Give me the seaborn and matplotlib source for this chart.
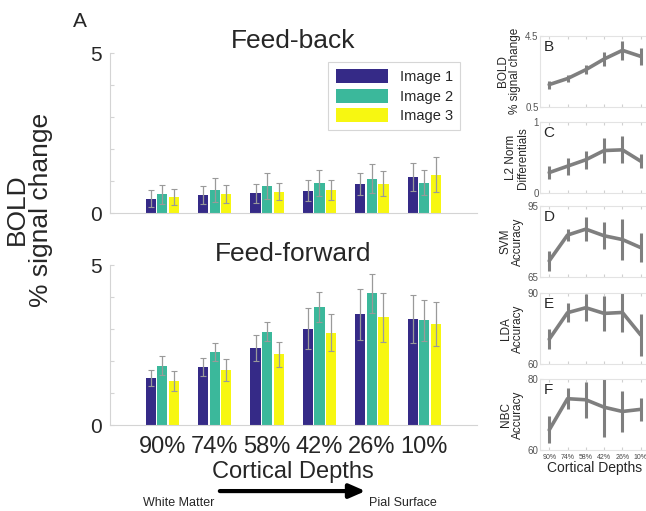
import numpy as np
import pandas as pd
import matplotlib
matplotlib.use("Agg")
import matplotlib.pyplot as plt
import seaborn as sns

# Bar data (panel A)
depths = ["90%", "74%", "58%", "42%", "26%", "10%"]
images = ["Image 1", "Image 2", "Image 3"]
fb_img1 = [0.45, 0.57, 0.62, 0.70, 0.90, 1.14]
fb_img2 = [0.59, 0.73, 0.85, 0.94, 1.07, 0.95]
fb_img3 = [0.50, 0.60, 0.67, 0.73, 0.92, 1.20]
fb_err1 = [0.27, 0.28, 0.29, 0.32, 0.35, 0.44]
fb_err2 = [0.30, 0.38, 0.40, 0.41, 0.45, 0.39]
fb_err3 = [0.24, 0.27, 0.26, 0.31, 0.40, 0.54]
ff_img1 = [1.47, 1.83, 2.42, 3.01, 3.46, 3.33]
ff_img2 = [1.86, 2.30, 2.92, 3.69, 4.12, 3.28]
ff_img3 = [1.37, 1.72, 2.22, 2.89, 3.37, 3.16]
ff_err1 = [0.24, 0.28, 0.41, 0.64, 0.79, 0.75]
ff_err2 = [0.29, 0.28, 0.30, 0.48, 0.61, 0.64]
ff_err3 = [0.31, 0.34, 0.39, 0.58, 0.77, 0.70]

# Line data (panels B-F)
bold_mean = [1.75, 2.09, 2.59, 3.19, 3.68, 3.34]
bold_err = [0.23, 0.22, 0.27, 0.39, 0.55, 0.48]
l2_mean = [0.29, 0.38, 0.47, 0.60, 0.61, 0.45]
l2_err = [0.09, 0.12, 0.13, 0.17, 0.19, 0.10]
svm_mean = [71.8, 82.7, 85.2, 82.4, 80.8, 77.4]
svm_err = [4.2, 2.7, 5.2, 5.7, 8.6, 6.0]
lda_mean = [70.4, 81.6, 83.7, 81.3, 81.7, 72.2]
lda_err = [4.2, 3.9, 5.7, 7.4, 8.4, 8.8]
nbc_mean = [65.7, 74.5, 74.2, 72.1, 70.9, 71.5]
nbc_err = [3.8, 2.9, 5.0, 8.3, 5.7, 3.3]

palette = ["#352a87", "#3bb89b", "#f7f711"]
spine_col = "#d4d4d4"

sns.set_style("white")
plt.rcParams["font.family"] = ["Liberation Sans", "DejaVu Sans"]

fig = plt.figure(figsize=(6.46, 5.11), dpi=100)


def bar_panel(ax, vals, errs, title):
    df = pd.DataFrame({
        "depth": depths * 3,
        "image": [im for im in images for _ in depths],
        "value": vals[0] + vals[1] + vals[2],
    })
    sns.barplot(data=df, x="depth", y="value", hue="image", order=depths,
                hue_order=images, palette=palette, width=0.66, gap=0.12,
                errorbar=None, saturation=1, ax=ax, edgecolor="none")
    for cont, v, e in zip(ax.containers, vals, errs):
        xs = [p.get_x() + p.get_width() / 2 for p in cont]
        ax.errorbar(xs, v, yerr=e, fmt="none", ecolor="#9a9a9a",
                    elinewidth=0.9, capsize=2, capthick=0.8)
    ax.set_xlim(-1, 6)
    ax.set_ylim(0, 5)
    ax.set_yticks(range(6))
    ax.set_yticklabels(["0", "", "", "", "", "5"], fontsize=15)
    ax.set_xlabel("")
    ax.set_ylabel("")
    ax.set_title(title, fontsize=19, pad=3)
    for s in ["top", "right"]:
        ax.spines[s].set_visible(False)
    for s in ["left", "bottom"]:
        ax.spines[s].set_color(spine_col)
    ax.tick_params(axis="both", direction="in", length=3, color=spine_col,
                   pad=6, left=True, bottom=True)


ax_fb = fig.add_axes([0.170, 0.583, 0.568, 0.313])
bar_panel(ax_fb, [fb_img1, fb_img2, fb_img3], [fb_err1, fb_err2, fb_err3], "Feed-back")
ax_fb.set_xticklabels([])
leg = ax_fb.legend(loc="upper right", bbox_to_anchor=(0.975, 0.99), fontsize=10.5,
                   frameon=True, handlelength=3.6, handleheight=1.1,
                   borderpad=0.5, labelspacing=0.3, fancybox=False)
leg.get_frame().set_edgecolor("#cccccc")
leg.get_frame().set_linewidth(0.8)

ax_ff = fig.add_axes([0.170, 0.168, 0.568, 0.313])
bar_panel(ax_ff, [ff_img1, ff_img2, ff_img3], [ff_err1, ff_err2, ff_err3], "Feed-forward")
ax_ff.get_legend().remove()
ax_ff.set_xticks(range(len(depths)))
ax_ff.set_xticklabels(depths, fontsize=17)
ax_ff.tick_params(axis="x", length=0, pad=8)
ax_ff.set_xlabel("Cortical Depths", fontsize=17, labelpad=2)

fig.text(0.045, 0.59, "BOLD\n% signal change", rotation=90, ha="center",
         va="center", fontsize=19, linespacing=1.0)
fig.text(0.124, 0.958, "A", fontsize=15, ha="center", va="center")

# arrow under the depth axis
fig.add_artist(matplotlib.patches.FancyArrowPatch(
    (0.336, 0.039), (0.570, 0.039), transform=fig.transFigure,
    arrowstyle="-|>,head_length=0.8,head_width=0.35", linewidth=3,
    color="black", mutation_scale=12))
fig.text(0.276, 0.016, "White Matter", fontsize=9, ha="center", va="center")
fig.text(0.624, 0.016, "Pial Surface", fontsize=9, ha="center", va="center")

# right column of line panels
right_panels = [
    (bold_mean, bold_err, (0.5, 4.5), ["0.5", "4.5"], "BOLD\n% signal change", "B", 0.791),
    (l2_mean, l2_err, (0, 1), ["0", "1"], "L2 Norm\nDifferentials", "C", 0.622),
    (svm_mean, svm_err, (65, 95), ["65", "95"], "SVM\nAccuracy", "D", 0.458),
    (lda_mean, lda_err, (60, 90), ["60", "90"], "LDA\nAccuracy", "E", 0.288),
    (nbc_mean, nbc_err, (60, 80), ["60", "80"], "NBC\nAccuracy", "F", 0.119),
]
line_col = "#7f7f7f"
for mean, err, lims, labels, ylab, letter, bottom in right_panels:
    ax = fig.add_axes([0.836, bottom, 0.170, 0.139])
    xpos = np.arange(len(depths))
    sns.lineplot(x=xpos, y=mean, color=line_col, linewidth=2.6, ax=ax)
    ax.errorbar(xpos, mean, yerr=err, fmt="none", ecolor=line_col,
                elinewidth=2.2, capsize=0)
    ax.set_xlim(-0.5, 5.5)
    ax.set_ylim(*lims)
    ax.set_yticks(lims)
    ax.set_yticklabels(labels, fontsize=7, color="#555555")
    ax.set_xticks(xpos)
    ax.set_xticklabels([])
    ax.set_ylabel(ylab, fontsize=8.5, labelpad=3, linespacing=1.0)
    ax.text(0.03, 0.94, letter, transform=ax.transAxes, fontsize=11,
            ha="left", va="top")
    for s in ax.spines.values():
        s.set_color("#e3e3e3")
    ax.tick_params(axis="both", direction="in", length=2, color="#d0d0d0",
                   pad=1, top=True, left=True, bottom=True)
    last_ax = ax

last_ax.set_xticklabels(depths, fontsize=5, color="#444444")
last_ax.tick_params(axis="x", pad=3)
last_ax.set_xlabel("Cortical Depths", fontsize=10, labelpad=0)

fig.savefig("out.png", dpi=100)
